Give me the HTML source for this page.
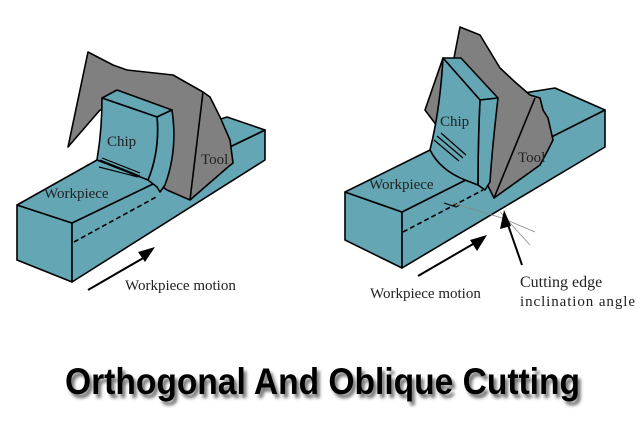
<!DOCTYPE html>
<html><head><style>
html,body{margin:0;padding:0;background:#fff;}
svg{display:block;}
</style></head><body>
<svg width="640" height="427" viewBox="0 0 640 427" xmlns="http://www.w3.org/2000/svg">
<defs>
<filter id="sh" x="-5%" y="-20%" width="110%" height="150%"><feGaussianBlur stdDeviation="1.6"/></filter>
</defs>
<g stroke="#000" stroke-width="1.6" stroke-linejoin="round" fill="#64a6b4">
<!-- LEFT -->
<polygon points="17,205 72,223 72,282 17,260"/>
<polygon points="72,223 265,130 265,160 72,282"/>
<polygon points="17,205 97,160 227,117 265,130 72,223" />
<path d="M88,52 L113,65 L127,70 L173,75 L203,92 L210,97 L220,117 L230,140 L233,163 L228,167 L190,200 L167,190 L160,185 L165,170 L147,120 L100,110 L68,147 Z" fill="#808080"/>
<path d="M203,92 L190,200" fill="none"/>
<path d="M102,98 L117,90 L172,110 L157,117 Z"/>
<path d="M157,117 L172,110 Q178,150 165,185 L160,192 L157,187 L148,180 Q160,150 157,117 Z"/>
<path d="M102,98 L157,117 Q160,150 148,180 L97,160 Q102,130 102,98 Z"/>
<path d="M100,160 L140,176 M99,167 L138,177 M102,158 L140,173" fill="none" stroke-width="1.2"/>
<path d="M74,242 L158,196" fill="none" stroke-dasharray="5,3"/>
<!-- RIGHT -->
<polygon points="345,192 402,212 402,268 345,240"/>
<polygon points="402,212 605,110 605,147 402,268"/>
<polygon points="345,192 430,150 480,100 555,88 605,110 402,212"/>
<path d="M460,27 L480,35 L500,68 L515,82 L530,95 L540,98 L543,110 L548,118 L553,140 L548,150 L540,165 L494,198 L485,180 L490,100 L443,58 L425,110 L440,130 Z" fill="#808080"/>
<path d="M535,98 L494,198" fill="none"/>
<path d="M443,58 L480,100 L498,98 L461,58 Z"/>
<path d="M480,100 L498,98 Q492,150 490,182 L485,190 L478,185 Q478,140 480,100 Z"/>
<path d="M443,58 L480,100 Q478,140 478,185 L465,180 Q440,170 430,150 Q440,110 443,58 Z"/>
<path d="M437,136 L463,158 M441,133 L466,155 M434,140 L459,161" fill="none" stroke-width="1.2"/>
<path d="M403,232 L483,190" fill="none" stroke-dasharray="5,3"/>
<path d="M444,203 L456,207 L460,205" fill="none" stroke-width="1"/>
</g>
<g stroke="#888" stroke-width="0.8" fill="none">
<path d="M452,203 L502,218 L535,232"/>
<path d="M500,212 L530,245"/>
</g>
<!-- arrows -->
<g stroke="#000" stroke-width="2" fill="#000">
<line x1="88" y1="290" x2="145" y2="257"/>
<polygon points="155,247 138,252 145,262" stroke="none"/>
<line x1="418" y1="276" x2="480" y2="240"/>
<polygon points="487,235 470,240 477,251" stroke="none"/>
<line x1="522" y1="265" x2="507" y2="222"/>
<polygon points="504,210 500,229 511,226" stroke="none"/>
</g>
<g font-family="Liberation Serif, serif" font-size="15" fill="#222">
<text x="107" y="146">Chip</text>
<text x="201" y="164">Tool</text>
<text x="44" y="198">Workpiece</text>
<text x="125" y="290">Workpiece motion</text>
<text x="440" y="126">Chip</text>
<text x="518" y="162">Tool</text>
<text x="369" y="189">Workpiece</text>
<text x="370" y="298">Workpiece motion</text>
<text x="520" y="287" font-size="16">Cutting edge</text>
<text x="520" y="306" textLength="115">inclination  angle</text>
</g>
<g font-family="Liberation Sans, sans-serif" font-weight="bold" font-size="37">
<text x="68" y="398" fill="#000" opacity="0.55" filter="url(#sh)" textLength="515" lengthAdjust="spacingAndGlyphs">Orthogonal And Oblique Cutting</text>
<text x="65" y="394" fill="#000" textLength="515" lengthAdjust="spacingAndGlyphs">Orthogonal And Oblique Cutting</text>
</g>
</svg>
</body></html>
